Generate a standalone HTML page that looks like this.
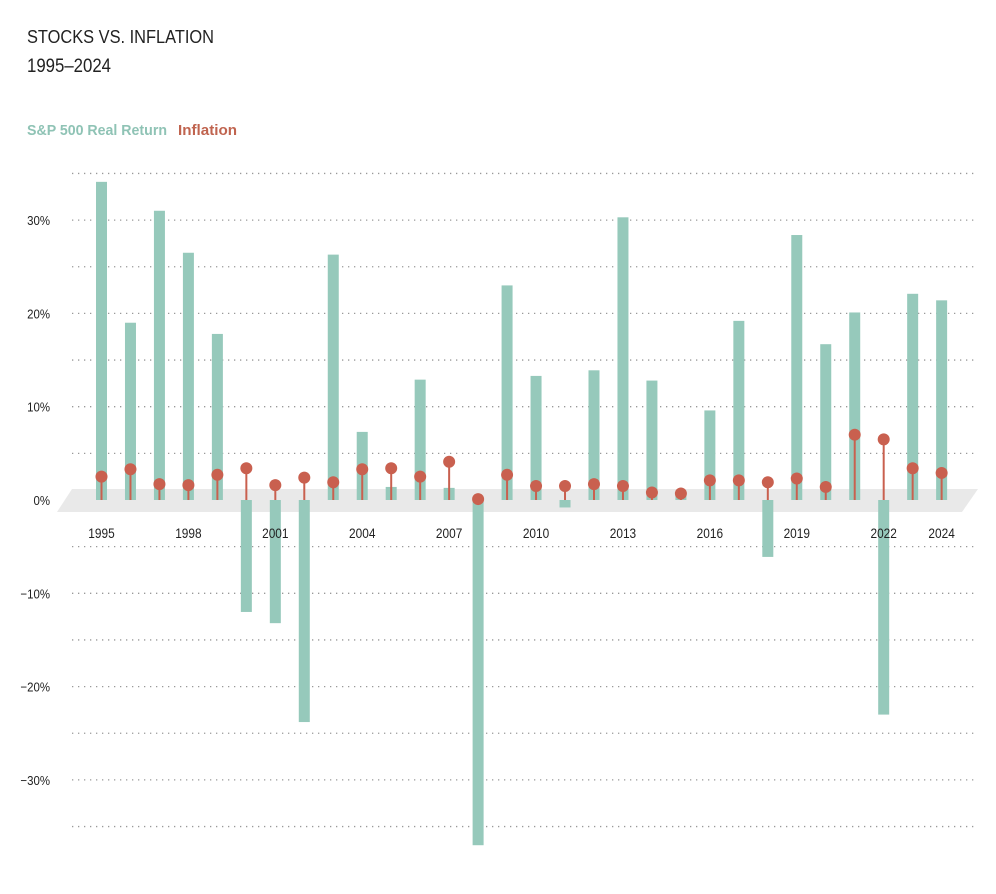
<!DOCTYPE html>
<html><head><meta charset="utf-8">
<style>
body{margin:0;background:#fff;width:996px;height:894px;overflow:hidden;font-family:"Liberation Sans",sans-serif;}
svg{display:block}
</style></head>
<body>
<svg id="chart" width="996" height="894" viewBox="0 0 996 894">
<text x="27" y="43" font-size="18" fill="#222" textLength="187" lengthAdjust="spacingAndGlyphs">STOCKS VS. INFLATION</text>
<text x="27" y="72" font-size="19" fill="#222" textLength="84" lengthAdjust="spacingAndGlyphs">1995–2024</text>
<text x="27" y="135" font-size="15" font-weight="bold" fill="#8fc3b5" textLength="140" lengthAdjust="spacingAndGlyphs">S&amp;P 500 Real Return</text>
<text x="178" y="135" font-size="15" font-weight="bold" fill="#c0644f" textLength="59" lengthAdjust="spacingAndGlyphs">Inflation</text>
<g id="grid"></g>
<polygon points="72,489 978,489 962,512 57,512" fill="#e9e9e9"/>
<g id="marks"></g>
<g id="labels"></g>
</svg>
<script>
const years=[1995,1996,1997,1998,1999,2000,2001,2002,2003,2004,2005,2006,2007,2008,2009,2010,2011,2012,2013,2014,2015,2016,2017,2018,2019,2020,2021,2022,2023,2024];
const realReturn=[34.1,19.0,31.0,26.5,17.8,-12.0,-13.2,-23.8,26.3,7.3,1.4,12.9,1.3,-37.0,23.0,13.3,-0.8,13.9,30.3,12.8,0.5,9.6,19.2,-6.1,28.4,16.7,20.1,-23.0,22.1,21.4];
const inflation=[2.5,3.3,1.7,1.6,2.7,3.4,1.6,2.4,1.9,3.3,3.4,2.5,4.1,0.1,2.7,1.5,1.5,1.7,1.5,0.8,0.7,2.1,2.1,1.9,2.3,1.4,7.0,6.5,3.4,2.9];
const yTicks=[30,20,10,0,-10,-20,-30];
const gridVals=[35,30,25,20,15,10,5,-5,-10,-15,-20,-25,-30,-35];
const xLabelYears=[1995,1998,2001,2004,2007,2010,2013,2016,2019,2022,2024];
const NS="http://www.w3.org/2000/svg";
function y(v){return 500-v*9.33;}
function x(yr){return 101.5+(yr-1995)*28.97;}
function mk(t,a,p){const e=document.createElementNS(NS,t);for(const k in a)e.setAttribute(k,a[k]);p.appendChild(e);return e;}
const grid=document.getElementById('grid'),marks=document.getElementById('marks'),labels=document.getElementById('labels');
gridVals.forEach(v=>{
 const l=mk('line',{x1:72,x2:975,y1:y(v),y2:y(v),stroke:'#999','stroke-width':1.3,'stroke-dasharray':'1.3 4.7'},grid);
 
 
});
yTicks.forEach(v=>{
 const t=mk('text',{x:50,y:y(v)+5,'text-anchor':'end','font-size':13,fill:'#222',transform:'translate(50,0) scale(0.88,1) translate(-50,0)'},labels);
 t.textContent=(v<0?'−':'')+Math.abs(v)+'%';
 
 
});
xLabelYears.forEach(yr=>{
 const cx=x(yr);
 const t=mk('text',{x:cx,y:538,'text-anchor':'middle','font-size':13.5,fill:'#222',transform:'translate('+cx+',0) scale(0.88,1) translate('+(-cx)+',0)'},labels);
 t.textContent=yr;
 
 
});
years.forEach((yr,i)=>{
 const v=realReturn[i],cx=x(yr);
 const b=mk('rect',{x:cx-5.5,width:11,y:Math.min(y(v),y(0)),height:Math.abs(y(v)-y(0)),fill:'#96c9bb'},marks);
 
 
});
years.forEach((yr,i)=>{
 const v=inflation[i],cx=x(yr);
 const s=mk('line',{x1:cx,x2:cx,y1:y(0),y2:y(v),stroke:'#c9604f','stroke-width':2},marks);
 
 
 const c=mk('circle',{cx:cx,cy:y(v),r:6,fill:'#c9604f'},marks);
 
 
});
</script>
</body></html>
